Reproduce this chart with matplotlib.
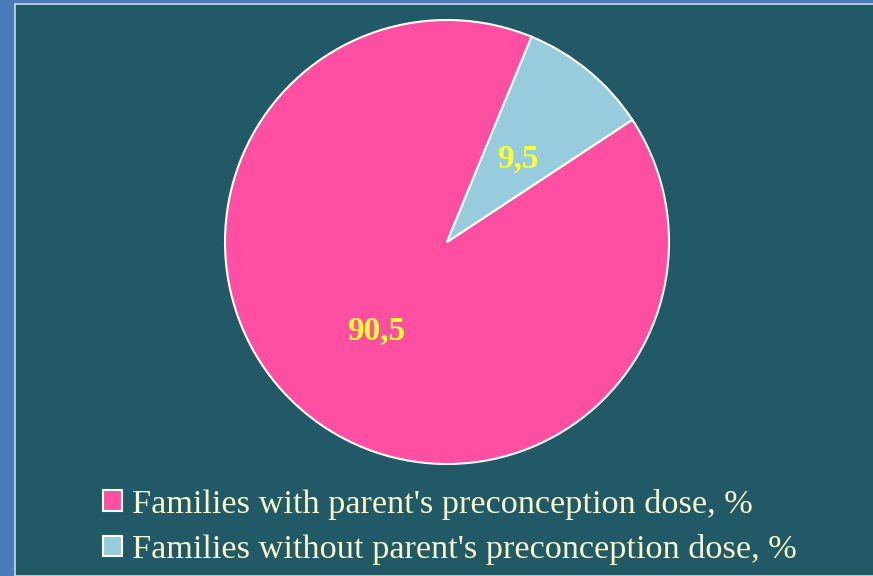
import matplotlib.pyplot as plt
from matplotlib.patches import Rectangle

# Share of families by parent's preconception dose
labels = ["Families with parent's preconception dose, %",
          "Families without parent's preconception dose, %"]
values = [90.5, 9.5]
colors = ['#ff4fa2', '#96ccdc']

fig = plt.figure(figsize=(8.73, 5.76), dpi=100, facecolor='#4a7bb8')

# dark panel with thin light edge
panel = Rectangle((15 / 873, 0), 1.0, 1 - 4 / 576, transform=fig.transFigure,
                  facecolor='#225966', edgecolor='#c8dde8', linewidth=1.2,
                  zorder=-5)
fig.patches.append(panel)

ax = fig.add_axes([225 / 873, (576 - 464) / 576, 444 / 873, 444 / 576])
ax.set_zorder(2)
ax.set_facecolor('none')
wedges, texts, autotexts = ax.pie(
    values, colors=colors, startangle=67.6, counterclock=True,
    autopct=lambda p: f"{p:.1f}".replace('.', ','), pctdistance=0.5,
    wedgeprops={'edgecolor': 'white', 'linewidth': 1.5})
for t in autotexts:
    t.set_fontfamily('Liberation Serif')
    t.set_fontweight('bold')
    t.set_fontsize(24)
    t.set_color('#ffff33')
    x, y = t.get_position()
    t.set_position((x, y - 0.015))
ax.set_xlim(-1, 1)
ax.set_ylim(-1, 1)
ax.set_aspect('equal')
ax.axis('off')

leg = fig.legend(wedges, labels, loc='upper left',
                 bbox_to_anchor=(89 / 873, 1 - 475 / 576), frameon=False,
                 prop={'family': 'Liberation Serif', 'size': 24.7},
                 labelcolor='#f7f5cc', handlelength=0.55, handleheight=0.55,
                 handletextpad=0.3, labelspacing=0.42, borderaxespad=0)
leg.set_zorder(3)

fig.savefig('out.png', dpi=100, facecolor=fig.get_facecolor())
